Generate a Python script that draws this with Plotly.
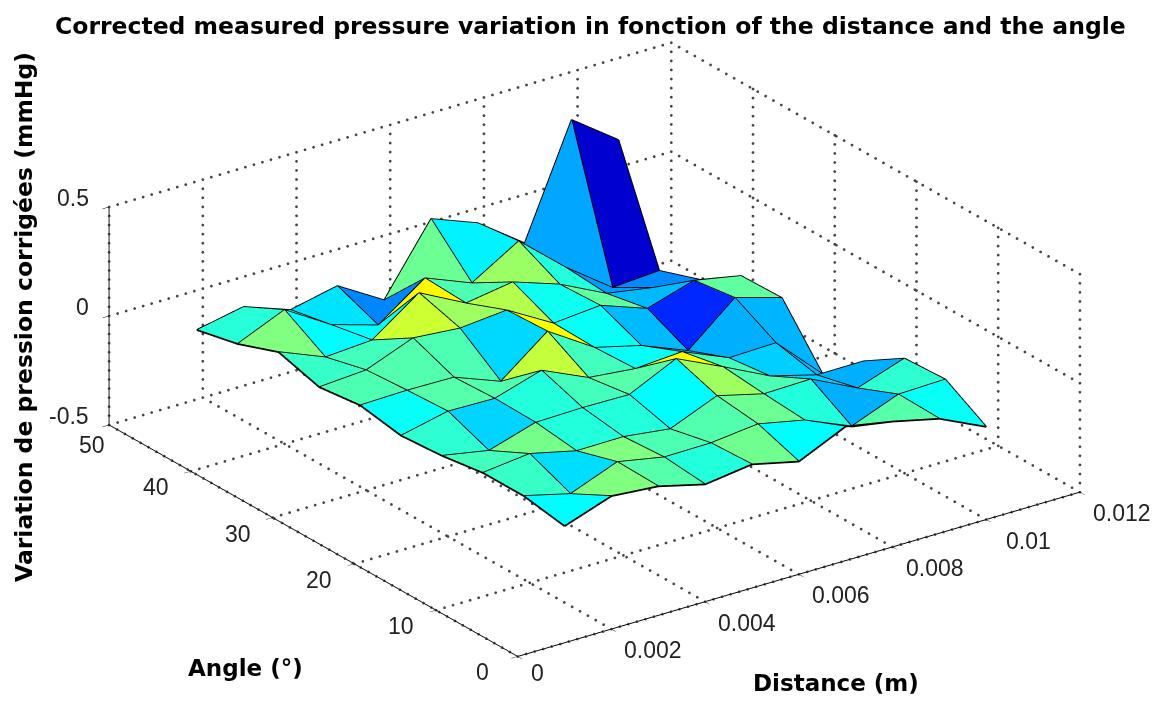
import plotly.graph_objects as go

distance = [0.001, 0.002, 0.003, 0.004, 0.005, 0.006, 0.007, 0.008, 0.009, 0.010]
angle = [0, 5, 10, 15, 20, 25, 30, 35, 40, 45]

z_a00 = [.035, .110, .092, .038, .067, .017, .115, .075, .025, -.075]
z_a05 = [.067, .013, .097, .056, .058, .082, .037, -.054, .030, .036]
z_a10 = [.067, .091, .041, .043, .016, .105, .051, .056, -.048, .026]
z_a15 = [.039, -.001, .065, .070, .067, .169, .069, -.036, -.094, -.093]
z_a20 = [.025, .073, .069, .135, .039, .017, .032, -.059, -.053, -.259]
z_a25 = [.058, .063, .060, -.022, .145, .008, -.046, -.132, .048, -.015]
z_a30 = [.035, .050, .134, .116, .136, .013, .032, -.045, .021, -.020]
z_a35 = [.090, .003, .018, .172, .062, .096, .023, -.082, -.118, -.144]
z_a40 = [.021, .114, -.018, -.082, .071, -.015, .115, -.068, -.224, -.209]
z_a45 = [-.021, .022, -.055, -.008, -.136, .174, .092, -.063, .440, .285]
pressure = [z_a00, z_a05, z_a10, z_a15, z_a20, z_a25, z_a30, z_a35, z_a40, z_a45]

c_a00 = [.375, .50, .46, .41, .485, .375, .40, .46, .385]
c_a05 = [.43, .345, .50, .45, .455, .48, .41, .30, .42]
c_a10 = [.44, .49, .41, .41, .375, .53, .45, .33, .30]
c_a15 = [.42, .335, .41, .44, .46, .63, .44, .33, .31]
c_a20 = [.385, .46, .455, .565, .44, .385, .30, .30, .305]
c_a25 = [.45, .455, .45, .34, .62, .385, .31, .165, .47]
c_a30 = [.43, .44, .575, .53, .55, .39, .47, .31, .27]
c_a35 = [.50, .375, .38, .63, .45, .525, .41, .28, .265]
c_a40 = [.415, .40, .35, .26, .48, .365, .41, .29, .08]
face_colour = [c_a00, c_a05, c_a10, c_a15, c_a20, c_a25, c_a30, c_a35, c_a40]

x_ticks = [0, 0.002, 0.004, 0.006, 0.008, 0.01, 0.012]
y_ticks = [0, 10, 20, 30, 40, 50]
z_ticks = [-0.5, 0, 0.5]
x_range = [0, 0.012]
y_range = [0, 50]
z_range = [-0.5, 0.5]

title_text = "Corrected measured pressure variation in fonction of the distance and the angle"
x_title = "Distance (m)"
y_title = "Angle (°)"
z_title = "Variation de pression corrigées (mmHg)"

jet = [[0, "rgb(0,0,128)"], [0.125, "rgb(0,0,255)"], [0.375, "rgb(0,255,255)"],
       [0.625, "rgb(255,255,0)"], [0.875, "rgb(255,0,0)"], [1, "rgb(128,0,0)"]]

nx, ny = len(distance), len(angle)
vx, vy, vz = [], [], []
for j in range(ny):
    for i in range(nx):
        vx.append(distance[i]); vy.append(angle[j]); vz.append(pressure[j][i])
fi, fj, fk, fc = [], [], [], []
for j in range(ny - 1):
    for i in range(nx - 1):
        a = j * nx + i; b = a + 1; c = a + nx + 1; d = a + nx
        fi += [a, a]; fj += [b, c]; fk += [c, d]
        fc += [face_colour[j][i]] * 2

surface = go.Mesh3d(x=vx, y=vy, z=vz, i=fi, j=fj, k=fk, intensity=fc, intensitymode="cell",
                    colorscale=jet, cmin=0, cmax=1, showscale=False, flatshading=True,
                    lighting=dict(ambient=1, diffuse=0, specular=0, roughness=1, fresnel=0),
                    hoverinfo="skip")

ex, ey, ez = [], [], []
for j in range(ny):
    ex += distance + [None]; ey += [angle[j]] * nx + [None]; ez += pressure[j] + [None]
for i in range(nx):
    ex += [distance[i]] * ny + [None]; ey += angle + [None]; ez += [pressure[j][i] for j in range(ny)] + [None]
edges = go.Scatter3d(x=ex, y=ey, z=ez, mode="lines", line=dict(color="black", width=3.5), hoverinfo="skip", showlegend=False)

# dotted grid on the three back walls, one dot about every 9 pixels
gx, gy, gz = [], [], []
def dots(p, q, n):
    for s in range(n + 1):
        f = s / n
        gx.append(p[0] + (q[0] - p[0]) * f)
        gy.append(p[1] + (q[1] - p[1]) * f)
        gz.append(p[2] + (q[2] - p[2]) * f)
x0, x1 = x_range; y0, y1 = y_range; z0, z1 = z_range
for t in x_ticks:
    dots((t, y0, z0), (t, y1, z0), 52); dots((t, y1, z0), (t, y1, z1), 24)
for t in y_ticks:
    dots((x0, t, z0), (x1, t, z0), 66); dots((x1, t, z0), (x1, t, z1), 24)
for t in z_ticks:
    dots((x0, y1, t), (x1, y1, t), 66); dots((x1, y0, t), (x1, y1, t), 52)
grid = go.Scatter3d(x=gx, y=gy, z=gz, mode="markers", marker=dict(color="#444444", size=1.6, line=dict(width=0)),
                    hoverinfo="skip", showlegend=False)

font = "Liberation Sans"
def axis(rng, ticks):
    return dict(range=rng, tickvals=ticks, showticklabels=False, title=dict(text=""),
                showgrid=False, zeroline=False, showbackground=False, showspikes=False,
                showline=True, linecolor="black", linewidth=2, ticks="outside", ticklen=8, tickcolor="black")

tick_font = dict(family=font, size=23, color="#222222")
scene_notes = []
for t in x_ticks:
    scene_notes.append(dict(x=t, y=y0, z=z0, text=f"{t:g}", showarrow=False, font=tick_font,
                            xshift=20 if t == 0 else 42, yshift=-17 if t == 0 else -21))
for t in y_ticks:
    scene_notes.append(dict(x=x0, y=t, z=z0, text=f"{t:g}", showarrow=False, font=tick_font,
                            xshift=-17 if t == 50 else -35, yshift=-20 if t == 50 else -16))
for t in z_ticks:
    scene_notes.append(dict(x=x0, y=y1, z=t, text=f"{t:g}", showarrow=False, font=tick_font,
                            xanchor="right", xshift=-18, yshift=9))

R = 1.9
K = 1.965
cx, cy, cz = -0.020, 0.0015, -0.0233
fig = go.Figure([grid, surface, edges])
fig.update_layout(
    width=1161, height=701, margin=dict(l=0, r=0, t=0, b=0), paper_bgcolor="white",
    showlegend=False,
    scene=dict(
        domain=dict(x=[0, 1], y=[0, 1]),
        xaxis=axis(x_range, x_ticks), yaxis=axis(y_range, y_ticks), zaxis=axis(z_range, z_ticks),
        aspectmode="manual", aspectratio=dict(x=K * 1.005, y=K * 1.017, z=0.34 * K * 1.019),
        camera=dict(projection=dict(type="orthographic"),
                    eye=dict(x=-0.533 * R + cx, y=-0.742 * R + cy, z=0.407 * R + cz),
                    center=dict(x=cx, y=cy, z=cz), up=dict(x=0, y=0, z=1)),
        annotations=scene_notes,
    ),
    annotations=[
        dict(text=f"<b>{title_text}</b>", x=582, y=18, showarrow=False,
             font=dict(family="DejaVu Sans", size=23.5, color="black")),
        dict(text=f"<b>{x_title}</b>", x=828, y=675, showarrow=False,
             font=dict(family="DejaVu Sans", size=23, color="black")),
        dict(text=f"<b>{y_title}</b>", x=237, y=660, showarrow=False,
             font=dict(family="DejaVu Sans", size=23, color="black")),
        dict(text=f"<b>{z_title}</b>", x=16, y=309, showarrow=False, textangle=-90,
             font=dict(family="DejaVu Sans", size=23.5, color="black")),
    ],
)
for an in fig.layout.annotations:
    an.xref = "paper"; an.yref = "paper"
    an.xanchor = "center"; an.yanchor = "middle"
    an.x = an.x / 1161
    an.y = 1 - an.y / 701
fig.write_html("out.html")
